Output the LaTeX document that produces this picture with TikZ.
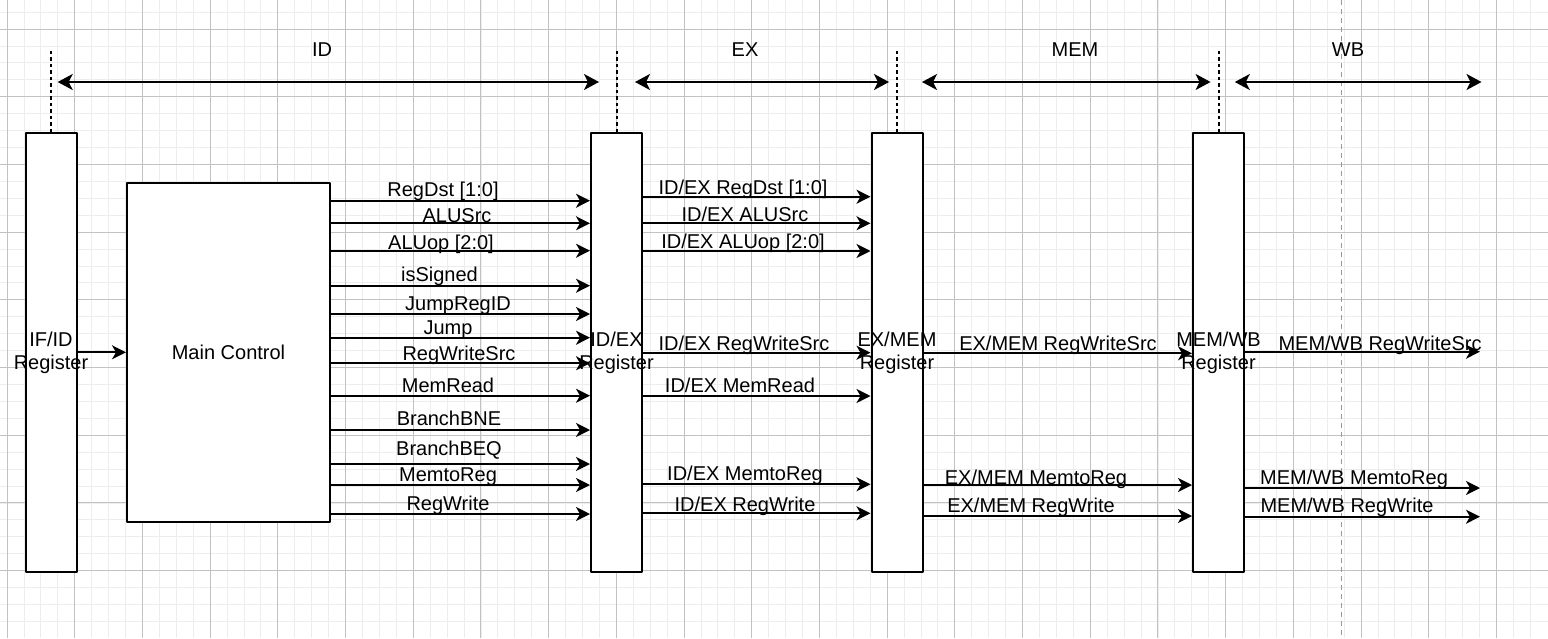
\documentclass[tikz,border=0pt]{standalone}
\usepackage{fontspec}
\setmainfont{Liberation Sans}
\usetikzlibrary{arrows.meta}

\begin{document}
\begin{tikzpicture}[x=1pt,y=-1pt,line join=round,
		font=\fontsize{20}{23}\selectfont,
		minorgrid/.style={black!7,line width=0.8pt},
		majorgrid/.style={black!24,line width=0.9pt},
		wbline/.style={black!40,line width=1.4pt,dash pattern=on 5pt off 4pt},
		sepline/.style={line width=2pt,dash pattern=on 3.5pt off 3pt},
		sig/.style={-{Stealth[length=14pt,width=14pt,inset=4pt]},line width=2pt},
		stagearr/.style={{Stealth[length=15pt,width=16pt,inset=4pt]}-{Stealth[length=15pt,width=16pt,inset=4pt]},line width=2pt},
		sigl/.style={anchor=base,inner sep=0pt},
		reg/.style={draw,fill=white,line width=2pt,minimum width=51pt,minimum height=439pt,inner sep=0pt},
		regl/.style={align=center,inner sep=0pt},
		ctrlbox/.style={draw,fill=white,line width=2pt,minimum width=203pt,minimum height=339pt}]
	\useasboundingbox (0,0) rectangle (1548,638);
	\fill[white] (0,0) rectangle (1548,638);
	\foreach \i in {0,...,90} \draw[minorgrid] ({7+16.925*\i},0) -- ({7+16.925*\i},638);
	\foreach \j in {-1,...,35} \draw[minorgrid] (0,{29+16.925*\j}) -- (1548,{29+16.925*\j});
	\foreach \i in {0,...,22} \draw[majorgrid] ({7+67.7*\i},0) -- ({7+67.7*\i},638);
	\foreach \j in {0,...,8} \draw[majorgrid] (0,{29+67.7*\j}) -- (1548,{29+67.7*\j});
	\draw[wbline] (1341.7,0) -- (1341.7,638);

	\node[reg] (ifid) at (51,352.7) {};
	\node[reg] (idex) at (616.5,352.7) {};
	\node[reg] (exmem) at (897,352.7) {};
	\node[reg] (memwb) at (1218.5,352.7) {};
	\node[ctrlbox] (ctrl) at (228.5,352.7) {Main Control};
	\node[regl] (ifidl) at (ifid) {IF/ID\\Register};
	\node[regl] (idexl) at (idex) {ID/EX\\Register};
	\node[regl] (exmeml) at (exmem) {EX/MEM\\Register};
	\node[regl] (memwbl) at (memwb) {MEM/WB\\Register};
	\coordinate (out) at (1480,352.7);

	\foreach \r in {ifid,idex,exmem,memwb}
		\draw[sepline] (\r.north) -- (\r.north |- 0,48);
	\foreach \a/\b/\n in {57.7/599/id,635/889/ex,922/1210.6/mem,1234.8/1481.5/wb}{
		\coordinate (\n l) at (\a,82);
		\coordinate (\n r) at (\b,82);
		\draw[stagearr] (\n l) -- (\n r);
	}
	\node[sigl] (idt) at (322,56.7) {ID};
	\node[sigl] (ext) at (745,56.7) {EX};
	\node[sigl] (memt) at (1075,56.7) {MEM};
	\node[sigl] (wbt) at (1348,56.7) {WB};

	\draw[sig] (ifid.east |- 0,352.3) -- (ctrl.west |- 0,352.3);
	\foreach \y/\lx/\ly/\t [count=\i] in {200.7/443/196/{RegDst [1:0]},223.3/457/222/ALUSrc,250.7/441/249.5/{ALUop [2:0]},
		285.7/439.5/281/isSigned,314/458/310/JumpRegID,337.7/448/334/Jump,363.3/459/360.3/RegWriteSrc,
		395.7/448/392.5/MemRead,430/449/425.7/BranchBNE,464/449/455.5/BranchBEQ,485/448/481/MemtoReg,514/448/510/RegWrite}{
		\draw[sig] (ctrl.east |- 0,\y) -- (idex.west |- 0,\y);
		\node[sigl] (a\i) at (\lx,\ly) {\t};
	}
	\foreach \y/\lx/\ly/\t [count=\i] in {196.7/743/194/{ID/EX RegDst [1:0]},223.3/745/221.7/{ID/EX ALUSrc},
		251/743/248.3/{ID/EX ALUop [2:0]},352.7/744/350/{ID/EX RegWriteSrc},396/740/392.3/{ID/EX MemRead},
		484.3/745/480/{ID/EX MemtoReg},513.3/745/511.7/{ID/EX RegWrite}}{
		\draw[sig] (idex.east |- 0,\y) -- (exmem.west |- 0,\y);
		\node[sigl] (b\i) at (\lx,\ly) {\t};
	}
	\foreach \y/\lx/\ly/\t [count=\i] in {353.3/1058/350.7/{EX/MEM RegWriteSrc},485/1036/484/{EX/MEM MemtoReg},
		516/1031/512.3/{EX/MEM RegWrite}}{
		\draw[sig] (exmem.east |- 0,\y) -- (memwb.west |- 0,\y);
		\node[sigl] (c\i) at (\lx,\ly) {\t};
	}
	\foreach \y/\lx/\ly/\t [count=\i] in {351.7/1380/350/{MEM/WB RegWriteSrc},488/1354/484/{MEM/WB MemtoReg},
		516.7/1347/512.3/{MEM/WB RegWrite}}{
		\draw[sig] (memwb.east |- 0,\y) -- (out |- 0,\y);
		\node[sigl] (d\i) at (\lx,\ly) {\t};
	}
\end{tikzpicture}
\end{document}
